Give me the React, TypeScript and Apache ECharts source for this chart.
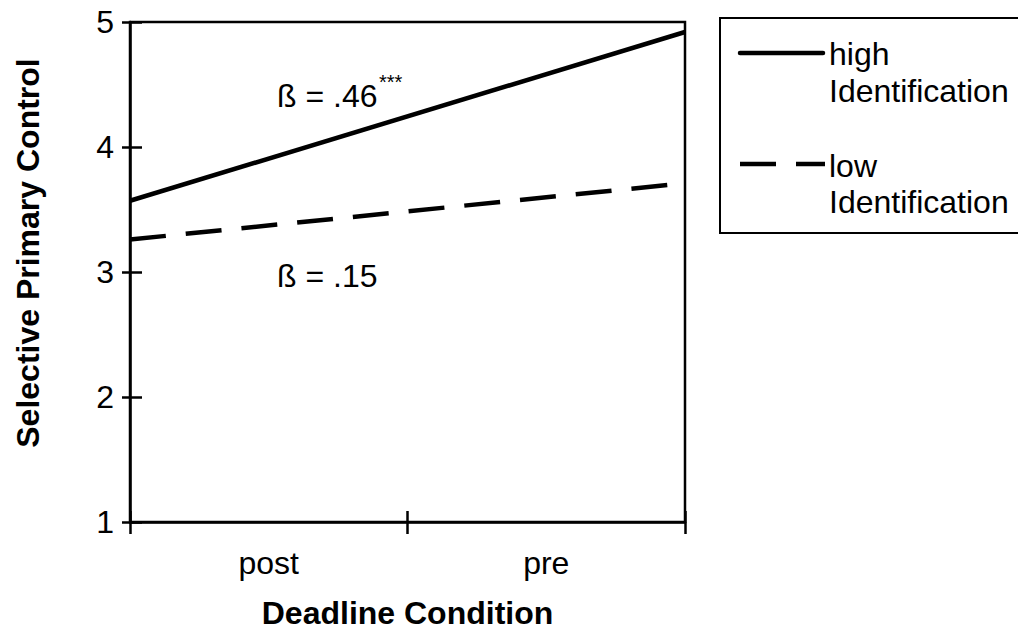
import React, { useEffect, useRef } from "react";
import * as echarts from "echarts";

const categories = ["post", "pre"];
const xEnds = [0, 2];
const highValues = [3.57, 4.92];
const lowValues = [3.26, 3.71];
const seriesNames = ["high Identification", "low Identification"];
const legendLines = [["high", "Identification"], ["low", "Identification"]];
const yMin = 1;
const yMax = 5;
const yStep = 1;
const annotations = ["ß = .46", "ß = .15"];
const significance = "***";

const FONT = "'Liberation Sans', Arial, sans-serif";
const BLACK = "#000";
const FS = 32;

export default function App() {
  const ref = useRef<HTMLDivElement>(null);
  useEffect(() => {
    document.body.style.margin = "0";
    const chart = echarts.init(ref.current!, null, { renderer: "svg" });
    const axisLineStyle = { color: BLACK, width: 2.5 };
    const textBase = { fontFamily: FONT, color: BLACK };
    const txt = (text: string, x: number, y: number, size = FS) => ({
      type: "text",
      x,
      y,
      style: { text, font: `${size}px ${FONT}`, fill: BLACK, textVerticalAlign: "middle" },
    });
    const option: any = {
      animation: false,
      backgroundColor: "#fff",
      grid: {
        left: 130,
        top: 22,
        width: 555,
        height: 500,
        show: true,
        borderColor: BLACK,
        borderWidth: 2.5,
        backgroundColor: "transparent",
      },
      xAxis: [
        {
          type: "category",
          data: categories,
          position: "bottom",
          boundaryGap: true,
          axisLine: { show: true, lineStyle: axisLineStyle },
          axisTick: { show: true, length: 12, lineStyle: axisLineStyle },
          axisLabel: { ...textBase, fontSize: FS, margin: 25 },
          splitLine: { show: false },
          name: "Deadline Condition",
          nameLocation: "middle",
          nameGap: 75,
          nameTextStyle: { ...textBase, fontSize: 32, fontWeight: "bold" },
        },
        {
          type: "category",
          data: categories,
          position: "bottom",
          boundaryGap: true,
          axisLine: { show: false },
          axisTick: { show: true, inside: true, length: 11, lineStyle: axisLineStyle },
          axisLabel: { show: false },
          splitLine: { show: false },
        },
        {
          type: "value",
          min: xEnds[0],
          max: xEnds[xEnds.length - 1],
          show: false,
          splitLine: { show: false },
        },
      ],
      yAxis: [
        {
          type: "value",
          min: yMin,
          max: yMax,
          interval: yStep,
          position: "left",
          axisLine: { show: true, lineStyle: axisLineStyle },
          axisTick: { show: true, length: 8, lineStyle: axisLineStyle },
          axisLabel: { ...textBase, fontSize: FS, margin: 16 },
          splitLine: { show: false },
          name: "Selective Primary Control",
          nameLocation: "middle",
          nameGap: 86,
          nameRotate: 90,
          nameTextStyle: {
            ...textBase,
            fontSize: 32,
            fontWeight: "bold",
            padding: [0, 0, 0, 38],
          },
        },
        {
          type: "value",
          min: yMin,
          max: yMax,
          interval: yStep,
          position: "left",
          axisLine: { show: false },
          axisTick: { show: true, inside: true, length: 12, lineStyle: axisLineStyle },
          axisLabel: { show: false },
          splitLine: { show: false },
        },
      ],
      series: [
        {
          name: seriesNames[0],
          type: "line",
          xAxisIndex: 2,
          yAxisIndex: 0,
          showSymbol: false,
          symbol: "none",
          clip: false,
          data: xEnds.map((x, i) => [x, highValues[i]]),
          lineStyle: { color: BLACK, width: 4.5, type: "solid" },
        },
        {
          name: seriesNames[1],
          type: "line",
          xAxisIndex: 2,
          yAxisIndex: 0,
          showSymbol: false,
          symbol: "none",
          clip: false,
          data: xEnds.map((x, i) => [x, lowValues[i]]),
          lineStyle: { color: BLACK, width: 4.5, type: [36, 20] },
        },
      ],
      graphic: [
        txt(annotations[0], 277, 96),
        txt(significance, 379, 82, 20),
        txt(annotations[1], 277, 276),
        {
          type: "rect",
          shape: { x: 720, y: 18, width: 330, height: 215 },
          style: { fill: "#fff", stroke: BLACK, lineWidth: 2 },
        },
        {
          type: "line",
          shape: { x1: 740, y1: 53, x2: 823, y2: 53 },
          style: { stroke: BLACK, lineWidth: 4.5, lineCap: "round" },
        },
        {
          type: "line",
          shape: { x1: 740, y1: 164, x2: 825, y2: 164 },
          style: { stroke: BLACK, lineWidth: 4.5, lineDash: [36, 20] },
        },
        txt(legendLines[0][0], 829, 54),
        txt(legendLines[0][1], 829, 91),
        txt(legendLines[1][0], 829, 166),
        txt(legendLines[1][1], 829, 202),
      ],
    };
    chart.setOption(option);
    return () => chart.dispose();
  }, []);
  return <div ref={ref} style={{ width: 1018, height: 639 }} />;
}
